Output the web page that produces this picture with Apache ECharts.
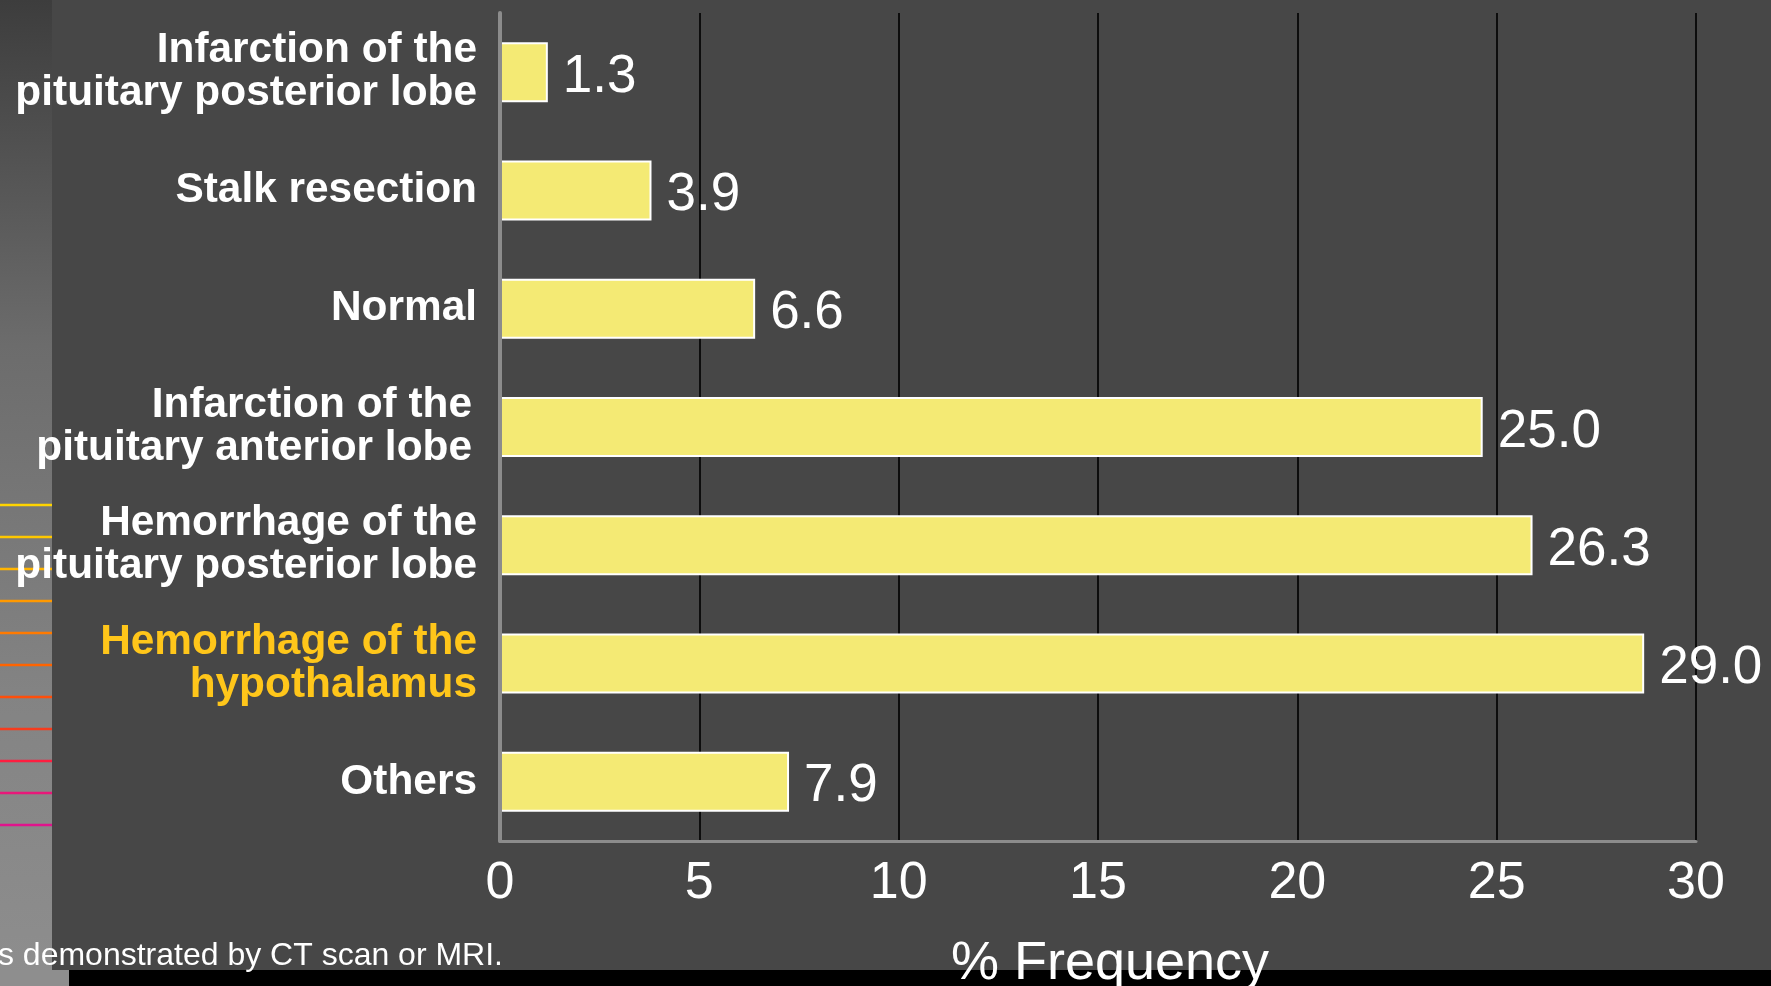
<!DOCTYPE html>
<html>
<head>
<meta charset="utf-8">
<script src="https://cdn.jsdelivr.net/npm/echarts@6/dist/echarts.min.js"></script>
<style>
html,body{margin:0;padding:0;background:#474747;overflow:hidden}
#chart{width:1771px;height:986px}
</style>
</head>
<body>
<div id="chart"></div>
<script>
// ---- data ----
const categories = [
  'Infarction of the\npituitary posterior lobe',
  'Stalk resection',
  'Normal',
  'Infarction of the\npituitary anterior lobe',
  'Hemorrhage of the\npituitary posterior lobe',
  'Hemorrhage of the\nhypothalamus',
  'Others'
];
// printed value labels
const frequencyLabels = ['1.3', '3.9', '6.6', '25.0', '26.3', '29.0', '7.9'];
// bar lengths as drawn in the reference (% frequency)
const barLengths = [1.2, 3.8, 6.4, 24.65, 25.9, 28.7, 7.25];
const xTicks = [0, 5, 10, 15, 20, 25, 30];
const highlightedCategory = 'Hemorrhage of the\nhypothalamus';
const axisTitle = '% Frequency';
const footnote = 's demonstrated by CT scan or MRI.';

// ---- rendering ----
const FONT = '"Liberation Sans", Arial, Helvetica, sans-serif';
const chart = echarts.init(document.getElementById('chart'), null, {renderer: 'canvas'});

const stripeColors = ['#ffd400','#ffc800','#ffb400','#ff9900','#ff7a00','#ff6400','#ff4e0a','#f63c1e','#ff1e40','#e8187a','#e0148c'];
const stripeLines = stripeColors.map((c, i) => ({
  type: 'line', z: -1,
  shape: {x1: 0, y1: 505 + i * 32, x2: 52, y2: 505 + i * 32},
  style: {stroke: c, lineWidth: 2.5}
}));

const option = {
  backgroundColor: '#474747',
  animation: false,
  grid: {left: 500, right: 75, top: 13, bottom: 145, containLabel: false, outerBoundsMode: 'none'},
  xAxis: {
    type: 'value',
    min: xTicks[0],
    max: xTicks[xTicks.length - 1],
    interval: xTicks[1] - xTicks[0],
    axisLine: {show: true, lineStyle: {color: '#8c8c8c', width: 3}},
    axisTick: {show: false},
    splitLine: {show: true, lineStyle: {color: '#0d0d0d', width: 2}},
    axisLabel: {color: '#ffffff', fontSize: 52, fontFamily: FONT, margin: 17},
    name: axisTitle,
    nameLocation: 'middle',
    nameGap: 96,
    nameTextStyle: {color: '#ffffff', fontSize: 54, fontFamily: FONT, padding: [0, 0, 0, 24]}
  },
  yAxis: {
    type: 'category',
    inverse: true,
    z: 4,
    data: categories.map(c => {
      const item = {value: c};
      if (c === highlightedCategory) item.textStyle = {color: '#ffc61a'};
      if (c.indexOf('anterior') >= 0) item.textStyle = {padding: [4, 5, 0, 0]};
      return item;
    }),
    axisLine: {show: true, lineStyle: {color: '#8c8c8c', width: 4}},
    axisTick: {show: false},
    splitLine: {show: false},
    axisLabel: {
      color: '#ffffff', fontSize: 42.4, fontWeight: 'bold', fontFamily: FONT,
      lineHeight: 43, margin: 23, align: 'right', padding: [4, 0, 0, 0]
    }
  },
  series: [{
    type: 'bar',
    data: barLengths,
    barWidth: 60,
    itemStyle: {color: '#f4ea74', borderColor: '#ffffff', borderWidth: 2},
    label: {
      show: true, position: 'right', distance: 15, offset: [0, 5],
      color: '#ffffff', fontSize: 53, fontFamily: FONT,
      formatter: p => frequencyLabels[p.dataIndex]
    }
  }],
  graphic: [
    {
      type: 'rect', z: -1,
      shape: {x: 0, y: 0, width: 52, height: 986},
      style: {fill: new echarts.graphic.LinearGradient(0, 0, 0, 1, [
        {offset: 0, color: '#3d3d3d'},
        {offset: 0.35, color: '#6c6c6c'},
        {offset: 0.7, color: '#838383'},
        {offset: 1, color: '#8e8e8e'}
      ])}
    },
    {type: 'rect', z: -1, shape: {x: 0, y: 970, width: 69, height: 16}, style: {fill: '#8e8e8e'}},
    {type: 'rect', z: -1, shape: {x: 69, y: 970, width: 1702, height: 16}, style: {fill: '#000000'}},
    ...stripeLines,
    {
      type: 'text', z: 10,
      style: {
        text: footnote, x: 503, y: 956, align: 'right', verticalAlign: 'middle',
        fill: '#ffffff', font: '32px ' + FONT
      }
    }
  ]
};
chart.setOption(option);
</script>
</body>
</html>
